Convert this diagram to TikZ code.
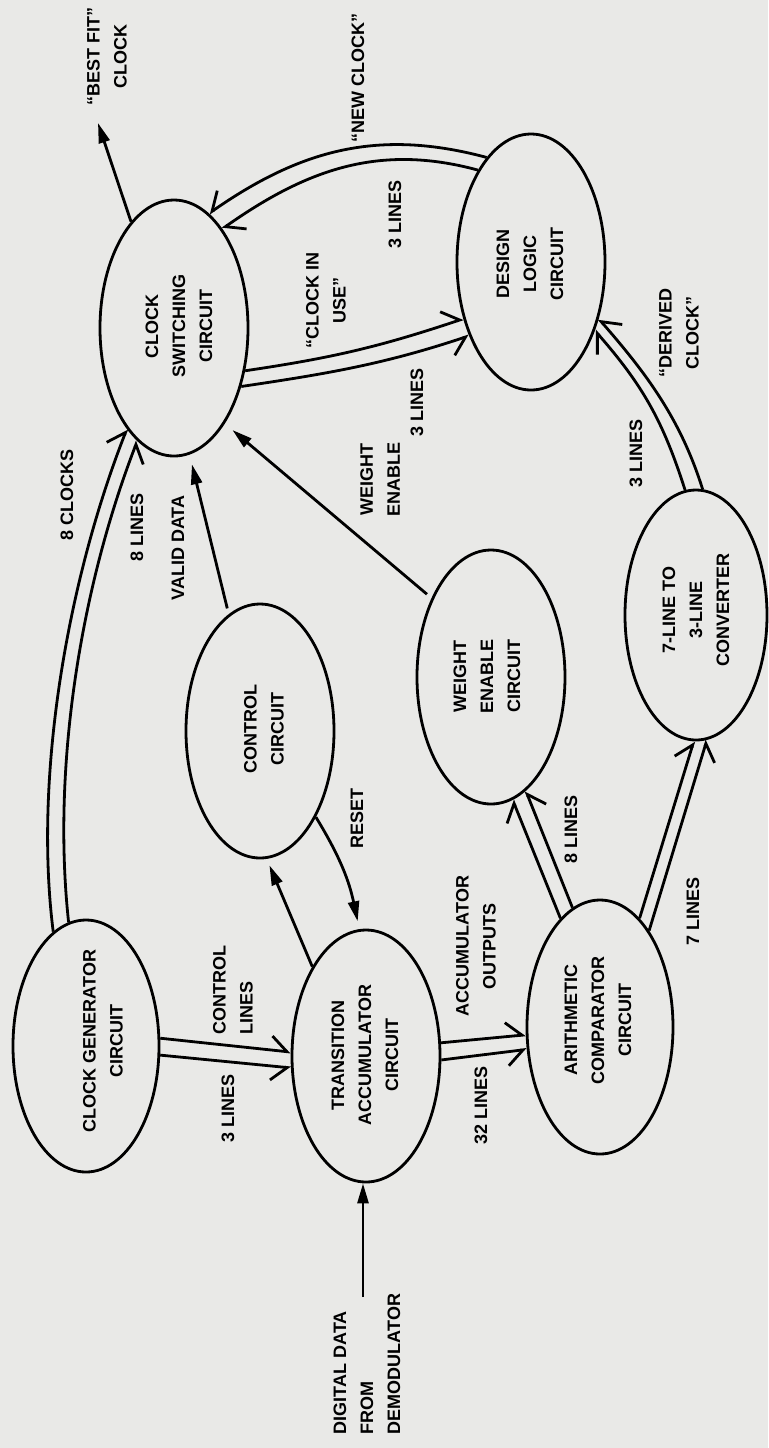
\documentclass[tikz,border=0pt]{standalone}
\usepackage{fontspec}
\newfontfamily\dgsans{Liberation Sans}
\usetikzlibrary{arrows.meta,shapes.geometric}
\newcommand\dgf{\dgsans\bfseries\fontsize{9}{13.5}\selectfont}
\definecolor{paper}{RGB}{233,233,231}
\begin{document}
\begin{tikzpicture}[x=0.5pt,y=-0.5pt,
  line width=1.4pt,
  ell/.style 2 args={ellipse,draw,line width=1.4pt,minimum width=#1pt,minimum height=#2pt,inner sep=0pt},
  lab/.style={font=\dgf,rotate=90,align=center,inner sep=0pt},
  labl/.style={font=\dgf,rotate=90,align=left,inner sep=0pt},
  hl/.style={-{Straight Barb[harpoon,length=8pt,width=14pt]}},
  hr/.style={-{Straight Barb[harpoon,swap,length=8pt,width=14pt]}},
  sa/.style={-{Triangle[length=10pt,width=5.5pt]}}]
\fill[paper] (0,0) rectangle (768,1448);
\useasboundingbox (0,0) rectangle (768,1448);

% ellipses
\node[ell={73}{126}] (cg) at (86,1046) {};
\node[ell={74}{126}] (ta) at (366,1056) {};
\node[ell={74}{127}] (ctl) at (260,731) {};
\node[ell={74}{128}] (cs) at (174,328) {};
\node[ell={73}{127}] (ac) at (600,1027) {};
\node[ell={74}{127}] (we) at (491,677) {};
\node[ell={74}{128}] (dl) at (531,262) {};
\node[ell={71}{125}] (cv) at (696,615) {};

% ellipse texts
\node[lab] (cgT) at (103,1041) {CLOCK GENERATOR\\CIRCUIT};
\node[lab] (taT) at (365,1055) {TRANSITION\\ACCUMULATOR\\CIRCUIT};
\node[lab] (ctlT) at (264,729) {CONTROL\\CIRCUIT};
\node[lab] (csT) at (179,326) {CLOCK\\SWITCHING\\CIRCUIT};
\node[lab] (acT) at (598,1020) {ARITHMETIC\\COMPARATOR\\CIRCUIT};
\node[lab] (weT) at (487,676) {WEIGHT\\ENABLE\\CIRCUIT};
\node[lab] (dlT) at (530,264) {DESIGN\\LOGIC\\CIRCUIT};
\node[lab] (cvT) at (696,610) {7-LINE TO\\3-LINE\\CONVERTER};

% connector labels
\node[lab] (l8c) at (67,495) {8 CLOCKS};
\node[lab] (l8l) at (137,527) {8 LINES};
\node[lab] (lvd) at (178,548) {VALID DATA};
\node[lab] (lwe) at (380,479) {WEIGHT\\ENABLE};
\node[lab] (l3a) at (417,402) {3 LINES};
\node[lab] (lciu) at (326,300) {“CLOCK IN\\USE”};
\node[lab] (l3b) at (395,214) {3 LINES};
\node[lab] (lnc) at (358,78) {“NEW CLOCK”};
\node[lab] (lbf) at (107,56) {“BEST FIT”\\CLOCK};
\node[lab] (lrs) at (357,818) {RESET};
\node[labl] (lcl) at (233,990) {CONTROL\\LINES};
\node[lab] (l3c) at (228,1108) {3 LINES};
\node[lab] (lao) at (476,946) {ACCUMULATOR\\OUTPUTS};
\node[lab] (l32) at (481,1105) {32 LINES};
\node[lab] (l8d) at (571,829) {8 LINES};
\node[lab] (l7) at (693,911) {7 LINES};
\node[lab] (l3d) at (636,453) {3 LINES};
\node[lab] (ldc) at (679,333) {“DERIVED\\CLOCK”};
\node[labl] (ldd) at (367,1364) {DIGITAL DATA\\FROM\\DEMODULATOR};

% double-line connectors
\draw[hl] (cg.6) -- (ta.177);
\draw[hr] (cg.-7) -- (ta.189);
\draw[hl] (ta.10) -- (ac.186);
\draw[hr] (ta.-3) -- (ac.197);
\draw[hl] (ac.110) -- (we.-80);
\draw[hr] (ac.103) -- (we.-73);
\draw[hl] (ac.70) -- (cv.-91);
\draw[hr] (ac.63) -- (cv.-85);
\draw[hl] (cv.95) .. controls +(-22,-69) and +(48,55) .. (dl.-47);
\draw[hr] (cv.87) .. controls +(-22,-70) and +(48,55) .. (dl.-40);
\draw[hl] (cs.-31) .. controls +(88,-13) and +(-84,28) .. (dl.220);
\draw[hr] (cs.-41) .. controls +(88,-13) and +(-84,28) .. (dl.230);
\draw[hr] (dl.113) .. controls +(-108,-29) and +(92,-64) .. (cs.73);
\draw[hl] (dl.120) .. controls +(-99,-27) and +(84,-59) .. (cs.64);
\draw[hl] (cg.106) .. controls +(-20,-159) and +(-58,148) .. (cs.245);
\draw[hr] (cg.98) .. controls +(-17,-157) and +(-56,145) .. (cs.252);

% single connectors
\draw[sa,shorten <=3pt,shorten >=5pt] (ctl.105) -- (cs.-83);
\draw[sa,shorten <=3pt,shorten >=5pt] (we.127) -- (cs.-62);
\draw[sa,shorten >=4pt] (ctl.-57) .. controls +(25,41) and +(-10,-47) .. (ta.93);
\draw[sa,shorten >=3.5pt] (ta.121) -- (ctl.-87);
\coordinate (bf) at (98,123);
\draw[sa] (cs.112) -- (bf);
\coordinate (dd) at (363,1297);
\draw[sa] (dd) -- (dd |- ta.south);
\end{tikzpicture}
\end{document}
